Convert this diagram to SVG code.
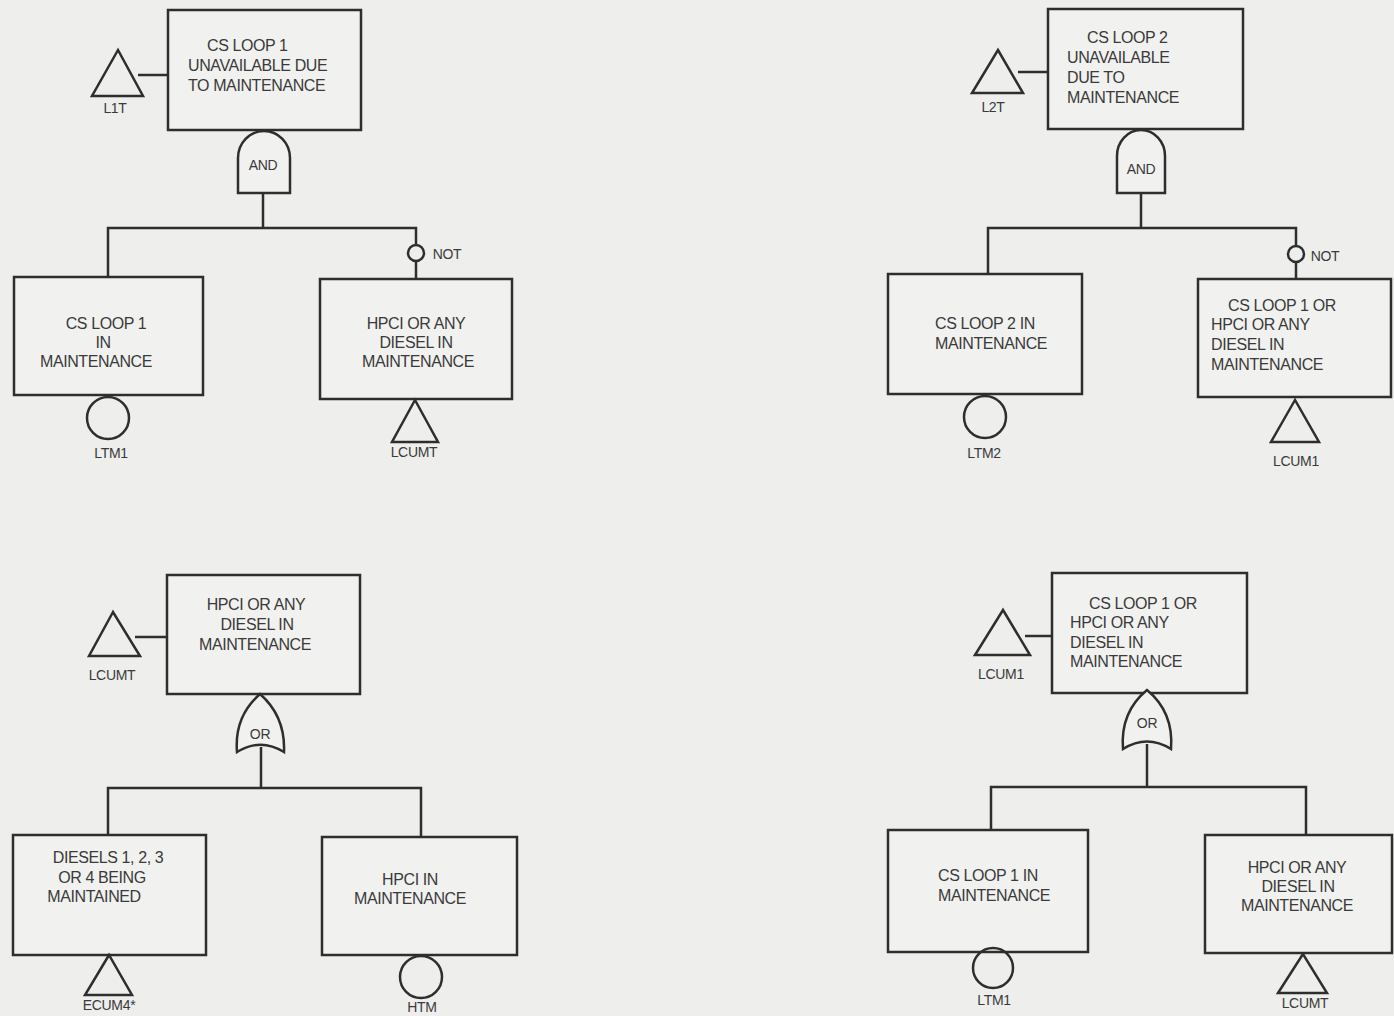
<svg xmlns="http://www.w3.org/2000/svg" width="1394" height="1016" viewBox="0 0 1394 1016">
<style>
.bg{fill:#eeeeec}
.box{fill:#f1f1ef;stroke:#2e2e2e;stroke-width:2.5}
.gate{fill:#f1f1ef;stroke:#2e2e2e;stroke-width:2.5}
.sym{fill:none;stroke:#2e2e2e;stroke-width:2.5}
.ln{fill:none;stroke:#2e2e2e;stroke-width:2.5}
text{font-family:"Liberation Sans",Arial,sans-serif;fill:#3a3a3a}
.t{font-size:16px;letter-spacing:-0.4px}
.m{text-anchor:middle}
.s{font-size:14px;text-anchor:middle;letter-spacing:-0.3px}
.g{font-size:14px;text-anchor:middle;letter-spacing:-0.3px}
</style>
<rect class="bg" x="0" y="0" width="1394" height="1016"/>

<g id="connectors">
  <!-- top-left -->
  <line class="ln" x1="138" y1="75" x2="168" y2="75"/>
  <line class="ln" x1="263" y1="193" x2="263" y2="228"/>
  <polyline class="ln" points="108,277 108,228 416,228 416,245"/>
  <line class="ln" x1="416" y1="261" x2="416" y2="279"/>
  <!-- top-right -->
  <line class="ln" x1="1018" y1="72" x2="1048" y2="72"/>
  <line class="ln" x1="1141" y1="193" x2="1141" y2="228"/>
  <polyline class="ln" points="988,274 988,228 1296,228 1296,246"/>
  <line class="ln" x1="1296" y1="262" x2="1296" y2="279"/>
  <!-- bottom-left -->
  <line class="ln" x1="135" y1="637" x2="167" y2="637"/>
  <line class="ln" x1="261" y1="747" x2="261" y2="788"/>
  <polyline class="ln" points="108,835 108,788 421,788 421,837"/>
  <!-- bottom-right -->
  <line class="ln" x1="1025" y1="636" x2="1052" y2="636"/>
  <line class="ln" x1="1147" y1="744" x2="1147" y2="787"/>
  <polyline class="ln" points="991,830 991,787 1306,787 1306,835"/>
</g>

<!-- ===== Top-left tree ===== -->
<g id="tl-top">
  <rect class="box" x="168" y="10" width="193" height="120"/>
  <text class="t" x="207" y="51">CS LOOP 1</text>
  <text class="t" x="188" y="71">UNAVAILABLE DUE</text>
  <text class="t" x="188" y="91">TO MAINTENANCE</text>
</g>
<g id="tl-L1T">
  <polygon class="sym" points="118,50 92,96 143,96"/>
  <text class="s" x="115" y="113">L1T</text>
</g>
<g id="tl-and">
  <path class="gate" d="M238,193 L238,158 A26,27 0 0 1 290,158 L290,193 Z"/>
  <text class="g" x="263" y="170">AND</text>
</g>
<g id="tl-not">
  <circle class="sym" cx="416" cy="253" r="8"/>
  <text class="s" x="447" y="259">NOT</text>
</g>
<g id="tl-left">
  <rect class="box" x="14" y="277" width="189" height="118"/>
  <text class="t m" x="106" y="329">CS LOOP 1</text>
  <text class="t m" x="103" y="348">IN</text>
  <text class="t m" x="96" y="367">MAINTENANCE</text>
</g>
<g id="tl-LTM1">
  <circle class="sym" cx="108" cy="418" r="21"/>
  <text class="s" x="111" y="458">LTM1</text>
</g>
<g id="tl-right">
  <rect class="box" x="320" y="279" width="192" height="120"/>
  <text class="t m" x="416" y="329">HPCI OR ANY</text>
  <text class="t m" x="416" y="348">DIESEL IN</text>
  <text class="t m" x="418" y="367">MAINTENANCE</text>
</g>
<g id="tl-LCUMT">
  <polygon class="sym" points="415,400 392,442 438,442"/>
  <text class="s" x="414" y="457">LCUMT</text>
</g>

<!-- ===== Top-right tree ===== -->
<g id="tr-top">
  <rect class="box" x="1048" y="9" width="195" height="120"/>
  <text class="t" x="1087" y="43">CS LOOP 2</text>
  <text class="t" x="1067" y="63">UNAVAILABLE</text>
  <text class="t" x="1067" y="83">DUE TO</text>
  <text class="t" x="1067" y="103">MAINTENANCE</text>
</g>
<g id="tr-L2T">
  <polygon class="sym" points="998,50 972,93 1023,93"/>
  <text class="s" x="993" y="112">L2T</text>
</g>
<g id="tr-and">
  <path class="gate" d="M1117,193 L1117,156 A24,26 0 0 1 1165,156 L1165,193 Z"/>
  <text class="g" x="1141" y="174">AND</text>
</g>
<g id="tr-not">
  <circle class="sym" cx="1296" cy="254" r="8"/>
  <text class="s" x="1325" y="261">NOT</text>
</g>
<g id="tr-left">
  <rect class="box" x="888" y="274" width="194" height="120"/>
  <text class="t" x="935" y="329">CS LOOP 2 IN</text>
  <text class="t" x="935" y="349">MAINTENANCE</text>
</g>
<g id="tr-LTM2">
  <circle class="sym" cx="985" cy="417" r="21"/>
  <text class="s" x="984" y="458">LTM2</text>
</g>
<g id="tr-right">
  <rect class="box" x="1198" y="279" width="193" height="118"/>
  <text class="t" x="1228" y="311">CS LOOP 1 OR</text>
  <text class="t" x="1211" y="330">HPCI OR ANY</text>
  <text class="t" x="1211" y="350">DIESEL IN</text>
  <text class="t" x="1211" y="370">MAINTENANCE</text>
</g>
<g id="tr-LCUM1">
  <polygon class="sym" points="1295,400 1271,442 1319,442"/>
  <text class="s" x="1296" y="466">LCUM1</text>
</g>

<!-- ===== Bottom-left tree ===== -->
<g id="bl-top">
  <rect class="box" x="167" y="575" width="193" height="119"/>
  <text class="t m" x="256" y="610">HPCI OR ANY</text>
  <text class="t m" x="257" y="630">DIESEL IN</text>
  <text class="t m" x="255" y="650">MAINTENANCE</text>
</g>
<g id="bl-LCUMT">
  <polygon class="sym" points="113,612 89,656 140,656"/>
  <text class="s" x="112" y="680">LCUMT</text>
</g>
<g id="bl-or">
  <path class="gate" d="M237,752 C235,728 244,708 260,694 C276,708 285,728 284,752 C268,742 253,742 237,752 Z"/>
  <text class="g" x="260" y="739">OR</text>
</g>
<g id="bl-left">
  <rect class="box" x="13" y="835" width="193" height="120"/>
  <text class="t m" x="108" y="863">DIESELS 1, 2, 3</text>
  <text class="t m" x="102" y="883">OR 4 BEING</text>
  <text class="t m" x="94" y="902">MAINTAINED</text>
</g>
<g id="bl-ECUM4">
  <polygon class="sym" points="109,955 85,995 132,995"/>
  <text class="s" x="109" y="1010">ECUM4*</text>
</g>
<g id="bl-right">
  <rect class="box" x="322" y="837" width="195" height="118"/>
  <text class="t m" x="410" y="885">HPCI IN</text>
  <text class="t m" x="410" y="904">MAINTENANCE</text>
</g>
<g id="bl-HTM">
  <circle class="sym" cx="421" cy="977" r="21"/>
  <text class="s" x="422" y="1012">HTM</text>
</g>

<!-- ===== Bottom-right tree ===== -->
<g id="br-top">
  <rect class="box" x="1052" y="573" width="195" height="120"/>
  <text class="t" x="1089" y="609">CS LOOP 1 OR</text>
  <text class="t" x="1070" y="628">HPCI OR ANY</text>
  <text class="t" x="1070" y="648">DIESEL IN</text>
  <text class="t" x="1070" y="667">MAINTENANCE</text>
</g>
<g id="br-LCUM1">
  <polygon class="sym" points="1003,610 975,655 1030,655"/>
  <text class="s" x="1001" y="679">LCUM1</text>
</g>
<g id="br-or">
  <path class="gate" d="M1123,749 C1121,724 1130,704 1147,690 C1164,704 1173,724 1171,749 C1155,739 1139,739 1123,749 Z"/>
  <text class="g" x="1147" y="728">OR</text>
</g>
<g id="br-left">
  <rect class="box" x="888" y="830" width="200" height="122"/>
  <text class="t" x="938" y="881">CS LOOP 1 IN</text>
  <text class="t" x="938" y="901">MAINTENANCE</text>
</g>
<g id="br-LTM1">
  <circle class="sym" cx="993" cy="968" r="20"/>
  <text class="s" x="994" y="1005">LTM1</text>
</g>
<g id="br-right">
  <rect class="box" x="1205" y="835" width="187" height="118"/>
  <text class="t m" x="1297" y="873">HPCI OR ANY</text>
  <text class="t m" x="1298" y="892">DIESEL IN</text>
  <text class="t m" x="1297" y="911">MAINTENANCE</text>
</g>
<g id="br-LCUMT">
  <polygon class="sym" points="1303,954 1278,993 1327,993"/>
  <text class="s" x="1305" y="1008">LCUMT</text>
</g>
</svg>
